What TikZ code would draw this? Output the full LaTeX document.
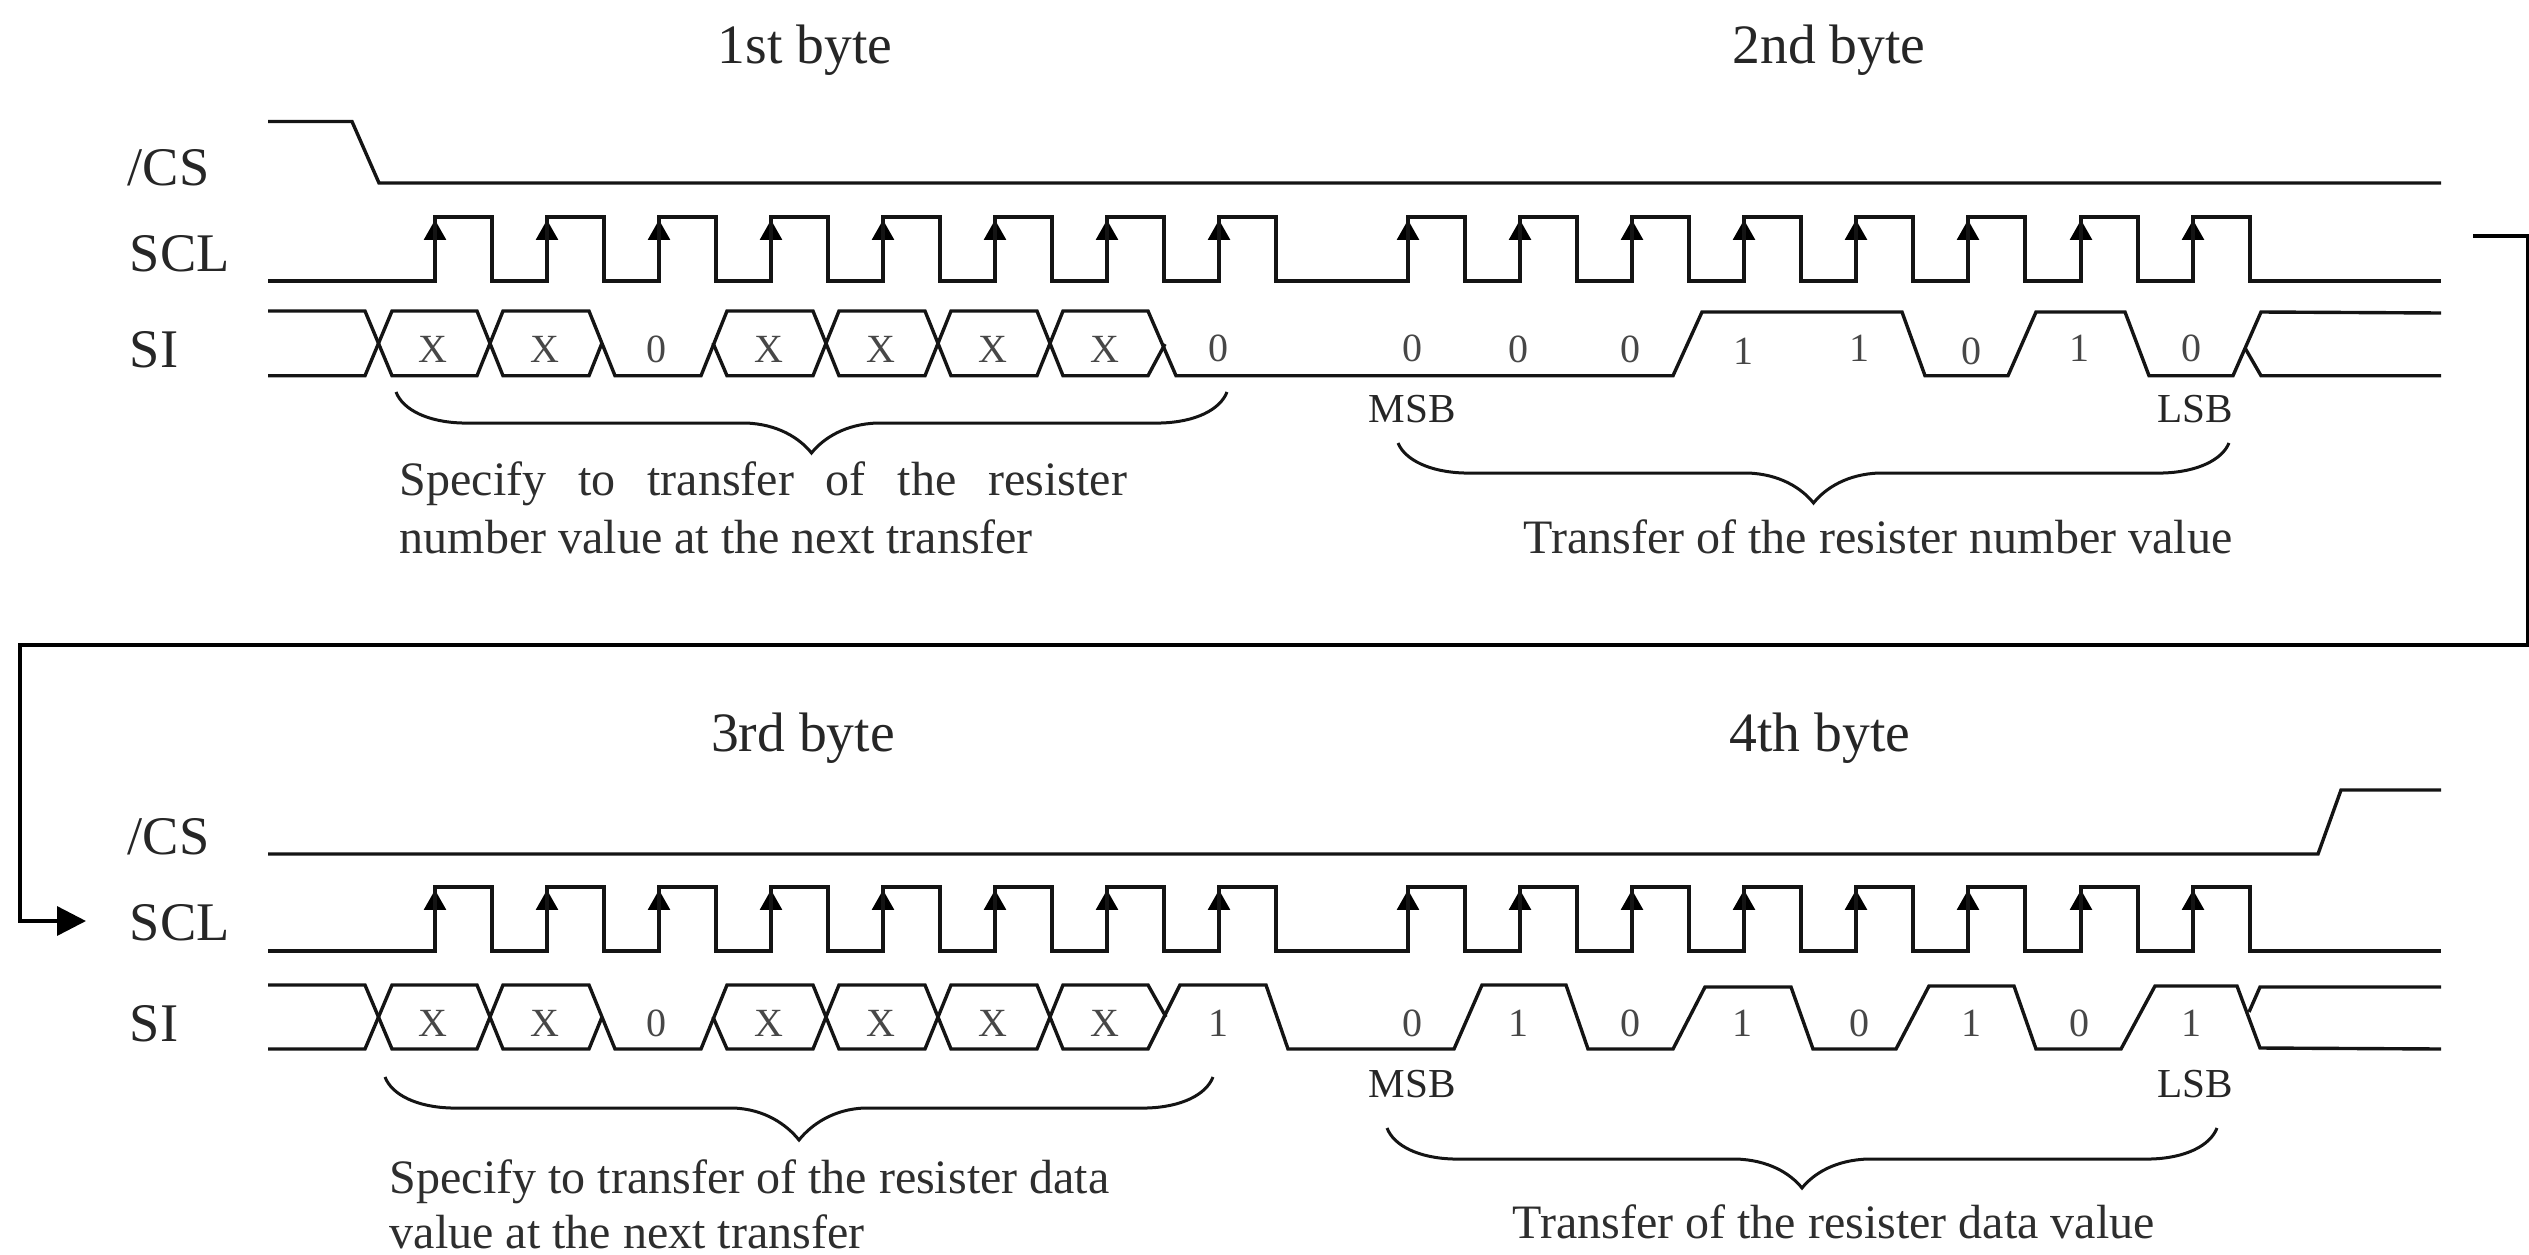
\documentclass[tikz,border=0pt]{standalone}
\usepackage{fontspec}
\setmainfont{Liberation Serif}
\usetikzlibrary{arrows.meta}
\tikzset{
  sig/.style={draw=black!92,line width=0.85pt,line join=miter},
  brace/.style={draw=black!92,line width=0.75pt},
  lab/.style={font=\fontsize{13.6}{16}\selectfont,text=black!85,inner sep=0pt,anchor=base west},
  big/.style={font=\fontsize{13.9}{16}\selectfont,text=black!85,inner sep=0pt},
  txt/.style={font=\fontsize{12}{14}\selectfont,text=black!82,inner sep=0pt,anchor=base west},
  bit/.style={font=\fontsize{10}{12}\selectfont,text=black!72,inner sep=0pt},
  msb/.style={font=\fontsize{10.3}{12}\selectfont,text=black!85,inner sep=0pt},
  hd/.style={-{Triangle[length=5pt,width=5.4pt]},shorten >=0.7pt,draw=black,line width=0.85pt}
}
\newcommand{\clockrow}[2]{% high, low
  \foreach \r in {435,547,659,771,883,995,1107,1219,1408,1520,1632,1744,1856,1968,2081,2193}{
    \draw[hd] (\r,#2) -- (\r,#1);
  }
  \draw[sig] (268,#2) -- (435,#2)
  \foreach \r/\n in {435/547,547/659,659/771,771/883,883/995,995/1107,1107/1219,1219/1408,1408/1520,1520/1632,1632/1744,1744/1856,1856/1968,1968/2081,2081/2193,2193/2441}{
     -- (\r,#1) -- ({\r+57},#1) -- ({\r+57},#2) -- (\n,#2)
  };
}
\newcommand{\hbrace}[5]{% x1 x2 ytop yflat ytip
  \draw[brace] (#1,#3) .. controls ({#1+7},{#4-13}) and ({#1+32},{#4-1}) .. ({#1+66},#4)
    -- ({(#1+#2)/2-66},#4) .. controls ({(#1+#2)/2-34},{#4+1}) and ({(#1+#2)/2-12},{#5-15}) .. ({(#1+#2)/2},#5)
    .. controls ({(#1+#2)/2+12},{#5-15}) and ({(#1+#2)/2+34},{#4+1}) .. ({(#1+#2)/2+66},#4)
    -- ({#2-66},#4) .. controls ({#2-32},{#4-1}) and ({#2-7},{#4-13}) .. (#2,#3);
}
\begin{document}
\begin{tikzpicture}[x=0.25pt,y=-0.25pt]
\useasboundingbox (0,0) rectangle (2529,1254);
% ---------- top
\node[big] (b1) at (805,50) {1st byte};
\node[big] (b2) at (1829,50) {2nd byte};
\node[lab] (cs1) at (127,185) {/CS};
\node[lab] (scl1) at (129,271) {SCL};
\node[lab] (si1) at (129,367) {SI};
\draw[sig] (268,121.5) -- (352,121.5) -- (379,183) -- (2441,183);
\clockrow{217}{281}
% SI top
\draw[sig] (268,311) -- (365,311) -- (392,375.7) -- (477,375.7) -- (503,311) -- (589,311) -- (615,375.7) -- (701,375.7) -- (727,311) -- (813,311) -- (839,375.7) -- (925,375.7) -- (951,311) -- (1037,311) -- (1063,375.7) -- (1148,375.7) -- (1165,344);
\draw[sig] (268,375.7) -- (365,375.7) -- (392,311) -- (477,311) -- (503,375.7) -- (589,375.7) -- (602,343);
\draw[sig] (713,343) -- (727,375.7) -- (813,375.7) -- (839,311) -- (925,311) -- (951,375.7) -- (1037,375.7) -- (1063,311) -- (1148,311) -- (1176,375.7) -- (1673,375.7) -- (1702,312) -- (1902,312) -- (1925,375.7) -- (2008,375.7) -- (2036,312) -- (2125,312) -- (2149,375.7) -- (2233,375.7) -- (2261,312) -- (2441,313);
\draw[sig] (2245,348) -- (2261,375.7) -- (2441,375.7);
\foreach \x/\t/\y in {433/X/349,545/X/349,656/0/349,769/X/349,881/X/349,993/X/349,1105/X/349,1218/0/348,1412/0/348,1518/0/349,1630/0/349,1743/1/351,1859/1/348,1971/0/351,2079/1/348,2191/0/348}{
  \node[bit] at (\x,\y) {\t};
}
\node[msb] (m1) at (1412,409) {MSB};
\node[msb] (l1) at (2195,409) {LSB};
\hbrace{396}{1227}{392}{423}{453}
\hbrace{1398}{2229}{443}{473}{503}
\node[txt] (t1) at (399,495) {\hbox to 181.8pt{Specify\hfil to\hfil transfer\hfil of\hfil the\hfil resister}};
\node[txt] (t2) at (399,553) {number value at the next transfer};
\node[txt] (t3) at (1523,553) {Transfer of the resister number value};
% connector
\coordinate (c0) at (2473,236);
\coordinate (c1) at (2528,236);
\coordinate (c2) at (2528,645);
\coordinate (c3) at (20,645);
\coordinate (c4) at (20,921);
\coordinate (c5) at (86,921);
\draw[sig,-{Triangle[length=7.2pt,width=7.2pt]},draw=black] (c0) -- (c1) -- (c2) -- (c3) -- (c4) -- (c5);
% ---------- bottom
\node[big] (b3) at (803,738) {3rd byte};
\node[big] (b4) at (1820,738) {4th byte};
\node[lab] (cs2) at (127,854) {/CS};
\node[lab] (scl2) at (129,940) {SCL};
\node[lab] (si2) at (129,1041) {SI};
\draw[sig] (268,854) -- (2318,854) -- (2341,790) -- (2441,790);
\clockrow{887}{951}
\draw[sig] (268,985) -- (365,985) -- (392,1049) -- (477,1049) -- (503,985) -- (589,985) -- (615,1049) -- (701,1049) -- (727,985) -- (813,985) -- (839,1049) -- (925,1049) -- (951,985) -- (1037,985) -- (1063,1049) -- (1148,1049) -- (1180,985) -- (1266,985) -- (1288,1049) -- (1454,1049) -- (1482,985) -- (1566,985) -- (1588,1049) -- (1673,1049) -- (1705,987) -- (1791,987) -- (1813,1049) -- (1896,1049) -- (1929,986) -- (2014,986) -- (2036,1049) -- (2121,1049) -- (2155,986) -- (2237,986) -- (2260,1048) -- (2441,1049);
\draw[sig] (268,1049) -- (365,1049) -- (392,985) -- (477,985) -- (503,1049) -- (589,1049) -- (602,1017);
\draw[sig] (713,1017) -- (727,1049) -- (813,1049) -- (839,985) -- (925,985) -- (951,1049) -- (1037,1049) -- (1063,985) -- (1148,985) -- (1166,1017);
\draw[sig] (2249,1012) -- (2260,987) -- (2441,987);
\foreach \x/\t in {433/X,545/X,656/0,769/X,881/X,993/X,1105/X,1218/1,1412/0,1518/1,1630/0,1742/1,1859/0,1971/1,2079/0,2191/1}{
  \node[bit] at (\x,1023) {\t};
}
\node[msb] (m2) at (1412,1084) {MSB};
\node[msb] (l2) at (2195,1084) {LSB};
\hbrace{385}{1213}{1077}{1108}{1140}
\hbrace{1387}{2217}{1128}{1159}{1188}
\node[txt] (t4) at (389,1193) {Specify to transfer of the resister data};
\node[txt] (t5) at (389,1248) {value at the next transfer};
\node[txt] (t6) at (1512,1238) {Transfer of the resister data value};
\end{tikzpicture}
\end{document}
